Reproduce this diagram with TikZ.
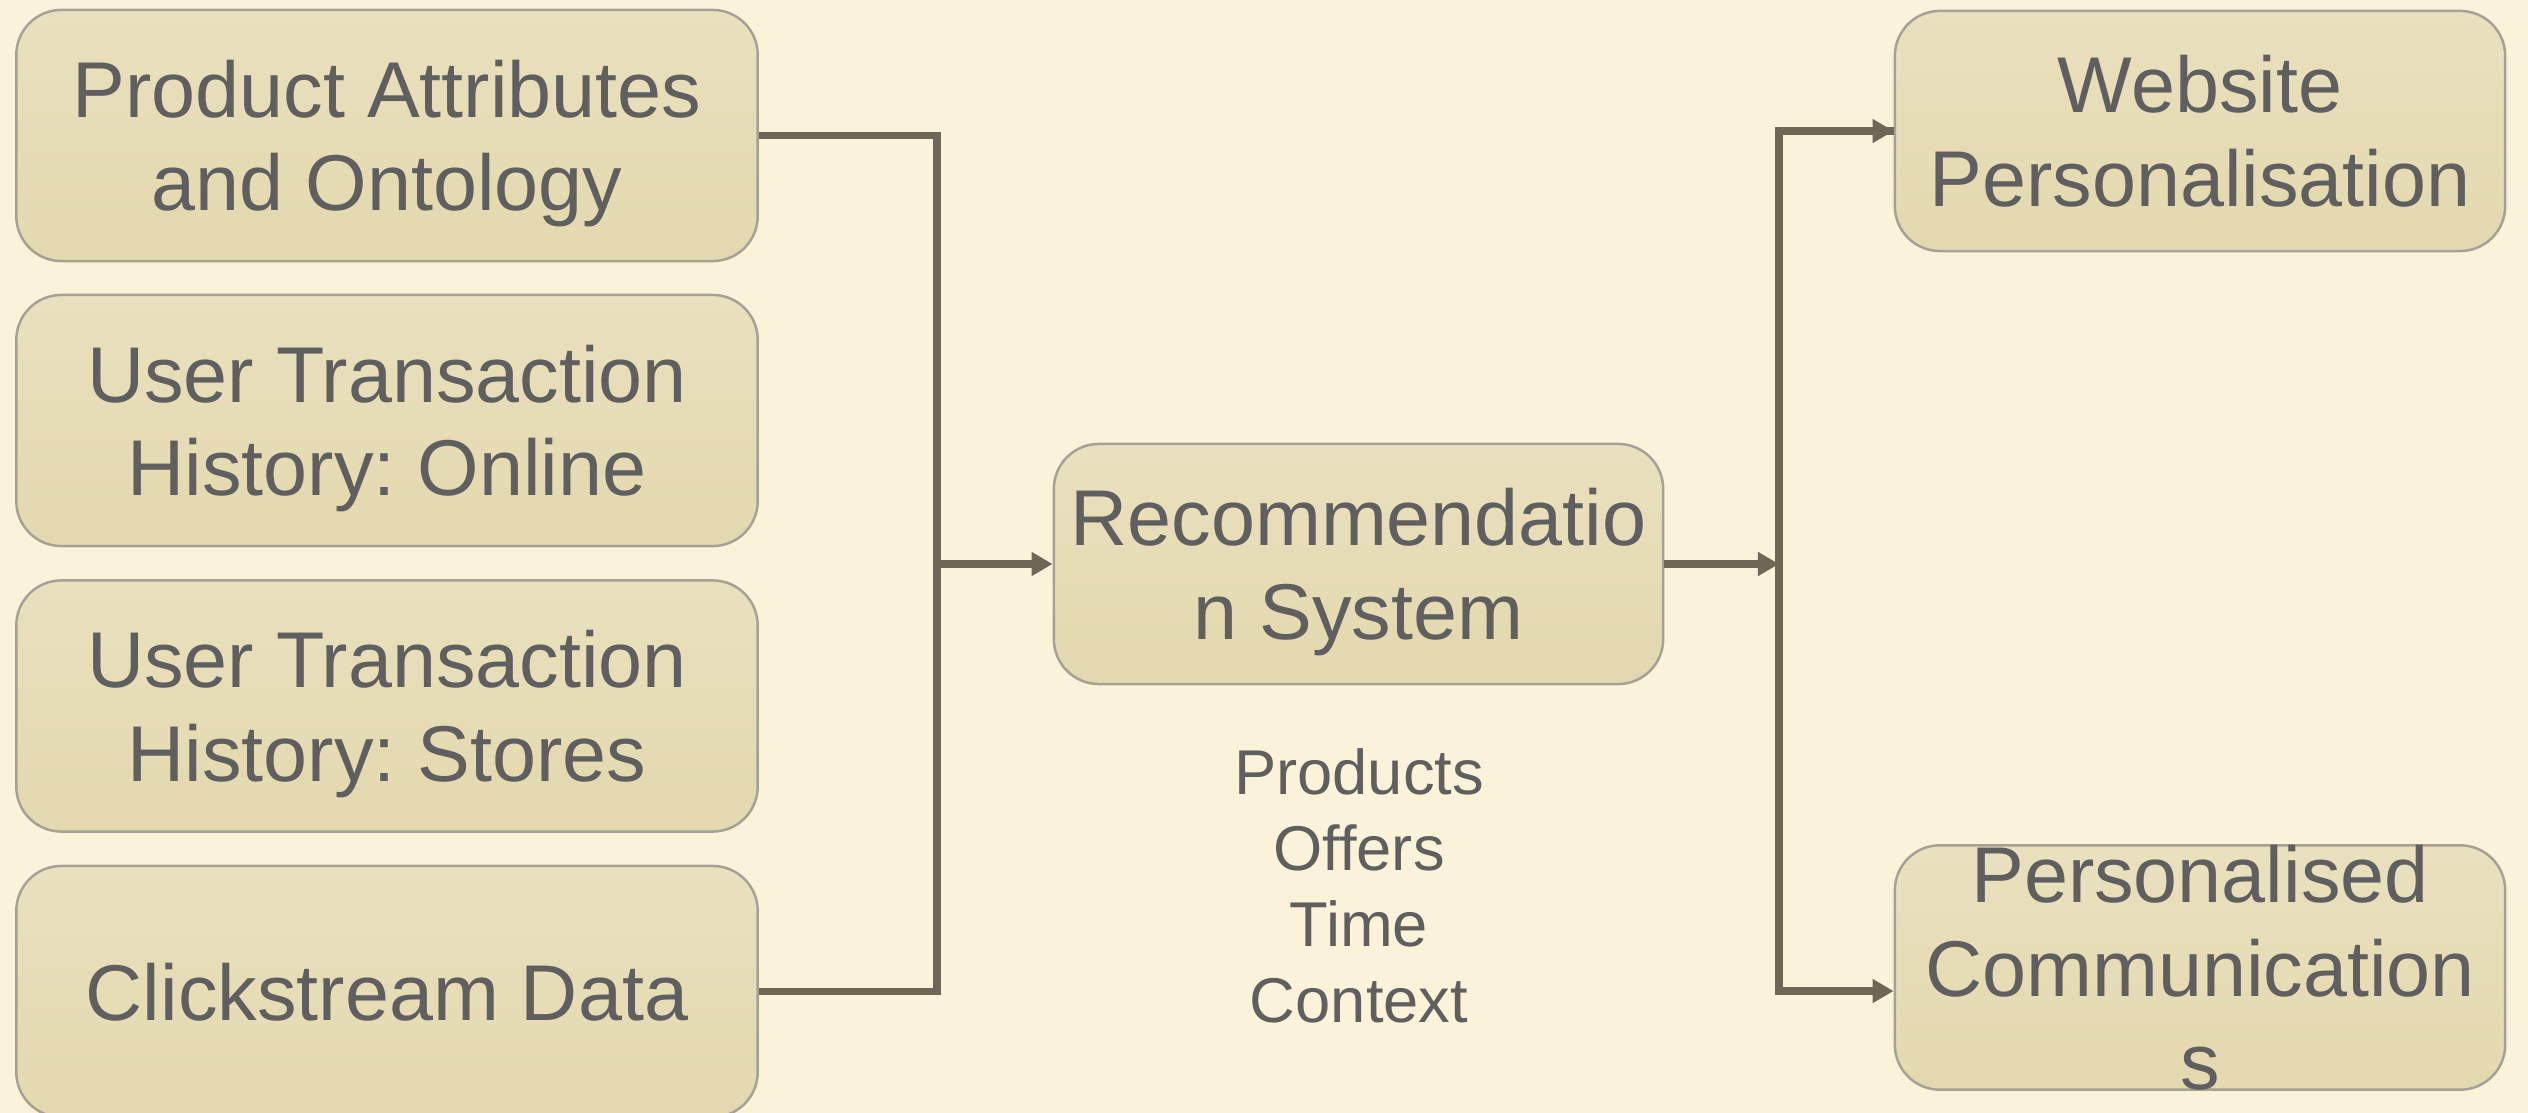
\documentclass[tikz,border=0pt]{standalone}
\usepackage{fontspec}
\setmainfont{Liberation Sans}
\frenchspacing
\usepackage{tikz}
\usetikzlibrary{ arrows.meta,  % For the arrow tips
                 positioning,  % For easy node-relative placements
               }
\definecolor{paper}{HTML}{FBF3D9}
\definecolor{boxtop}{HTML}{E9E0BE}
\definecolor{boxbot}{HTML}{E3D8AE}
\definecolor{boxrim}{HTML}{A5A197}
\definecolor{wire}{HTML}{6E6757}
\definecolor{ink}{HTML}{5F5F5F}
\tikzstyle{block} = [rectangle, rounded corners=0.45cm, draw=boxrim, line width=0.7pt,
                     top color=boxtop, bottom color=boxbot, text=ink, align=center,
                     inner sep=0pt, text depth=0pt, font=\fontsize{22.5}{26.6}\selectfont]
\tikzstyle{source} = [block, minimum width=7.41cm, minimum height=2.51cm]
\tikzstyle{sink} = [block, minimum width=6.10cm, minimum height=2.40cm]
\tikzstyle{wire} = [draw=wire, line width=2.2pt]
\tikzstyle{arr} = [wire, -{Triangle[length=6pt, width=6.5pt]}]

\begin{document}
\begin{tikzpicture}[x=0.01cm, y=-0.01cm]
  \useasboundingbox (0, 0) rectangle (2528, 1113);
  \fill [paper] (0, 0) rectangle (2528, 1113);

  \node (attr) [source] at (387, 135.5) {Product Attributes\\and Ontology};
  \node (online) [source] at (387, 420.5) {User Transaction\\History: Online};
  \node (stores) [source] at (387, 706) {User Transaction\\History: Stores};
  \node (click) [source] at (387, 991.5) {Clickstream Data};

  \node (rec) [block, minimum width=6.09cm, minimum height=2.40cm] at (1358.5, 564) {Recommendatio\\n System};
  \node (ctx) [text=ink, align=center, font=\fontsize{18}{21.6}\selectfont] at (1359, 886) {Products\\Offers\\Time\\Context};

  \node (web) [sink] at (2200, 131) {Website\\Personalisation};
  \node (comm) [sink, minimum height=2.39cm] at (2200, 967.5) {Personalised\\Communication\\s};

  \coordinate (inbus) at (937, 564);
  \coordinate (outbus) at (1779, 564);

  \draw [wire] (attr.east) -| (inbus) |- (click.east);
  \draw [arr] (inbus) -- (rec.west);
  \draw [arr] (rec.east) -- (outbus);
  \draw [wire] (outbus) |- (web.west);
  \draw [arr] ([xshift=-1pt]outbus |- web.west) -- (web.west);
  \draw [arr] (outbus) |- ([yshift=-2.35mm]comm.west);
\end{tikzpicture}
\end{document}
